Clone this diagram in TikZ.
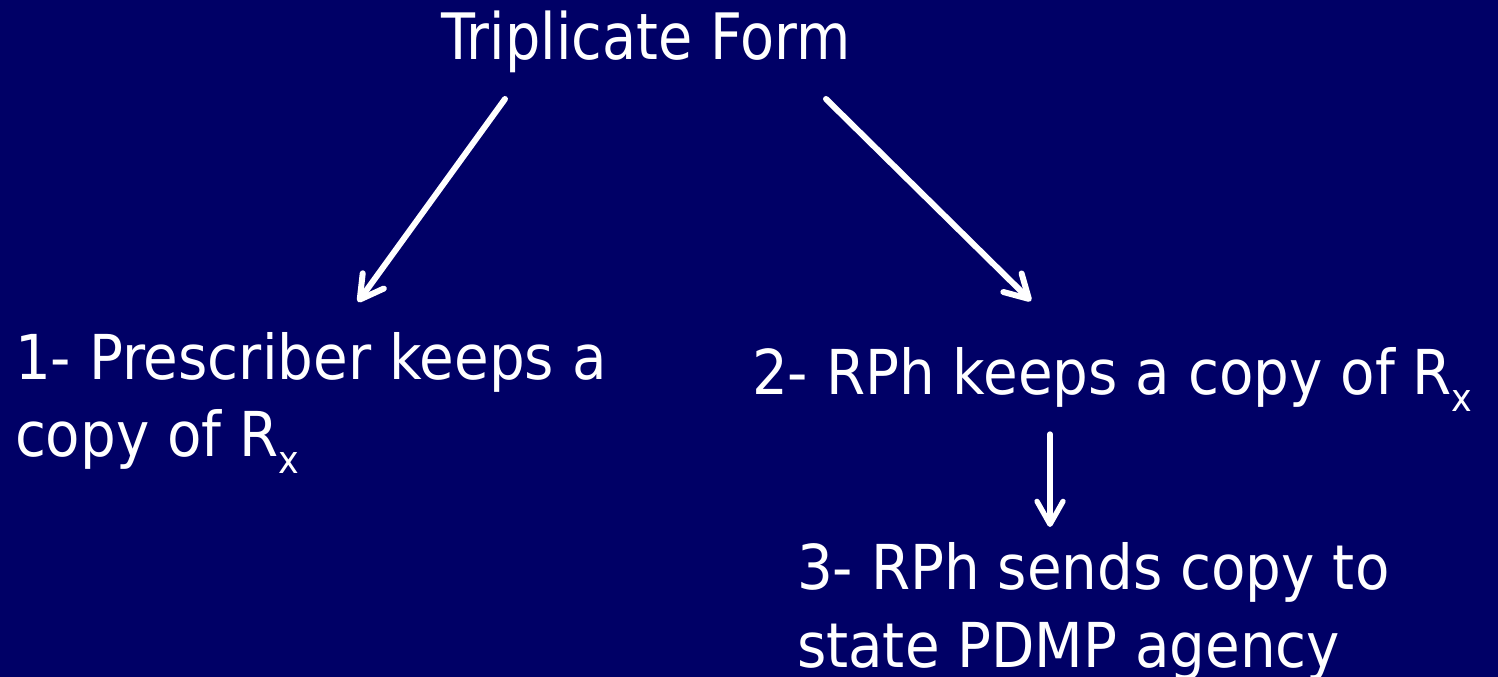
\documentclass[tikz,border=0pt]{standalone}
\usepackage{fontspec}
\usepackage{graphicx}
\setmainfont[FakeStretch=0.91]{DejaVu Sans}
\newfontfamily\titlefont[FakeStretch=0.87]{DejaVu Sans}
\usetikzlibrary{arrows.meta}
\definecolor{bg}{HTML}{000066}
\newcommand\subx{\raisebox{-0.26em}{\scalebox{0.62}{x}}}
\tikzset{
  lbl/.style={anchor=base west, inner sep=0pt, outer sep=0pt, text=white, align=left},
  big/.style={font=\titlefont\fontsize{18.2pt}{22pt}\selectfont},
  body/.style={font=\fontsize{17.6pt}{21.9pt}\selectfont},
  arr/.style={draw=white, line width=1.7pt, line cap=round,
    -{Straight Barb[length=2.3mm,width=2.6mm,line cap=round,line join=round]}},
}
\begin{document}
\begin{tikzpicture}[x=0.01cm,y=-0.01cm]
\fill[bg] (0,0) rectangle (1498,677);
\useasboundingbox (0,0) rectangle (1498,677);
\node[lbl,big] (title) at (441,60) {Triplicate Form};
\node[lbl,body] (one) at (15,457) {1- Prescriber keeps a\\copy of R\subx};
\node[lbl,body] (two) at (752,395) {2- RPh keeps a copy of R\subx};
\node[lbl,body] (three) at (797,667) {3- RPh sends copy to\\state PDMP agency};
\coordinate (a1s) at (505,99);
\coordinate (a1e) at (358,302);
\coordinate (a2s) at (826,99);
\coordinate (a2e) at (1031,301);
\coordinate (a3s) at (1050,434);
\coordinate (a3e) at (1050,527);
\draw[arr] (a1s) -- (a1e);
\draw[arr] (a2s) -- (a2e);
\draw[arr, line width=1.5pt] (a3s) -- (a3e);
\end{tikzpicture}
\end{document}
